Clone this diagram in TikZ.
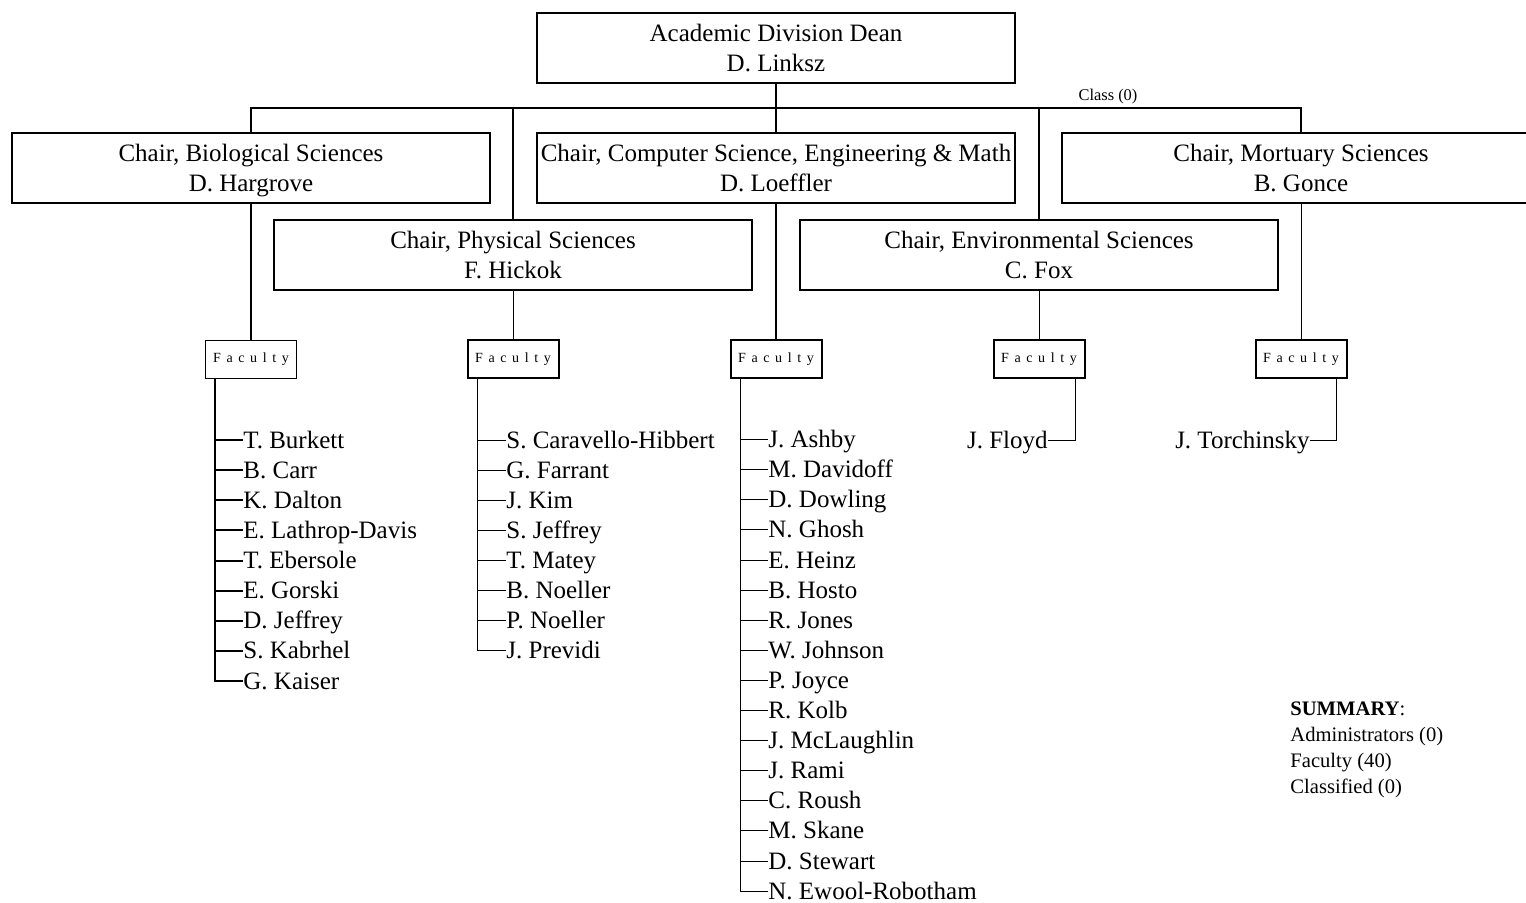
\documentclass[tikz,border=0pt]{standalone}
\usepackage{fontspec}
\setmainfont{Liberation Serif}
\usetikzlibrary{positioning,calc}

\newcommand{\chairstrut}{\rule[-3.5pt]{0pt}{15pt}}

\tikzset{
  chairbox/.style={draw, line width=1pt, minimum width=239pt, minimum height=35pt,
    align=center, inner sep=0pt, font=\fontsize{12.5}{15}\selectfont},
  facbox/.style={draw, line width=1pt, minimum width=45.5pt, minimum height=19pt,
    inner sep=0pt, font=\fontsize{7}{8}\selectfont\addfontfeature{LetterSpace=40}},
  member/.style={inner sep=0pt, text height=8pt, text depth=0pt,
    font=\fontsize{12.5}{15}\selectfont},
  heavy/.style={line width=1pt},
  light/.style={line width=0.5pt},
}

\begin{document}
\begin{tikzpicture}[x=0.5pt,y=-0.5pt]
\useasboundingbox (0,0) rectangle (1526,902);

% dean and chairs
\node[chairbox] (dean) at (776,48) {Academic Division Dean\chairstrut\\D. Linksz\chairstrut};
\node[chairbox] (bio) at (251,168) {Chair, Biological Sciences\chairstrut\\D. Hargrove\chairstrut};
\node[chairbox] (csem) at (776,168) {Chair, Computer Science, Engineering \& Math\chairstrut\\D. Loeffler\chairstrut};
\node[chairbox] (mort) at (1301,168) {Chair, Mortuary Sciences\chairstrut\\B. Gonce\chairstrut};
\node[chairbox] (phys) at (513,255) {Chair, Physical Sciences\chairstrut\\F. Hickok\chairstrut};
\node[chairbox] (env) at (1039,255) {Chair, Environmental Sciences\chairstrut\\C. Fox\chairstrut};
\coordinate (bus) at (776,108);
\node[font=\fontsize{8.2}{9}\selectfont, inner sep=0pt] (classlbl) at (1108,97) {Class (0)};

% bus lines
\draw[heavy] (dean) -- (csem);
\draw[heavy] (bio.north) |- (bus) -| (mort.north);
\draw[heavy] (phys.north) -- (phys.north |- bus);
\draw[heavy] (env.north) -- (env.north |- bus);

% faculty boxes
\node[facbox, light] (fbio) at (251,359) {Faculty};
\node[facbox] (fphys) at (513,359) {Faculty};
\node[facbox] (fcsem) at (776,359) {Faculty};
\node[facbox] (fenv) at (1039,359) {Faculty};
\node[facbox] (fmort) at (1301,359) {Faculty};
\draw[heavy] (bio) -- (fbio);
\draw[light] (phys) -- (fphys);
\draw[heavy] (csem) -- (fcsem);
\draw[light] (env) -- (fenv);
\draw[light] (mort) -- (fmort);

% biological sciences
\coordinate (biospine) at ([xshift=5pt]fbio.south west);
\foreach \who [count=\i] in {T. Burkett, B. Carr, K. Dalton, E. Lathrop-Davis,
    T. Ebersole, E. Gorski, D. Jeffrey, S. Kabrhel, G. Kaiser}{
  \node[member, anchor=west] (bio\i) at (243,{409.87+30.13*\i}) {\who};
  \draw[heavy] (bio\i.west) -- (bio\i.west -| biospine);
}
\draw[heavy] (biospine) |- (bio9.west);

% physical sciences
\coordinate (physspine) at ([xshift=5.5pt]fphys.south west);
\foreach \who [count=\i] in {S. Caravello-Hibbert, G. Farrant, J. Kim, S. Jeffrey,
    T. Matey, B. Noeller, P. Noeller, J. Previdi}{
  \node[member, anchor=west] (phys\i) at (506,{409.87+30.13*\i}) {\who};
  \draw[light] (phys\i.west) -- (phys\i.west -| physspine);
}
\draw[light] (physspine) |- (phys8.west);

% computer science, engineering & math
\coordinate (csemspine) at ([xshift=5.5pt]fcsem.south west);
\foreach \who [count=\i] in {J. Ashby, M. Davidoff, D. Dowling, N. Ghosh, E. Heinz,
    B. Hosto, R. Jones, W. Johnson, P. Joyce, R. Kolb, J. McLaughlin, J. Rami,
    C. Roush, M. Skane, D. Stewart, N. Ewool-Robotham}{
  \node[member, anchor=west] (csem\i) at (768,{409.5+30.1*\i}) {\who};
  \draw[light] (csem\i.west) -- (csem\i.west -| csemspine);
}
\draw[light] (csemspine) |- (csem16.west);

% environmental and mortuary sciences
\coordinate (envspine) at ([xshift=-5pt]fenv.south east);
\node[member, anchor=east] (floyd) at (1048,440) {J. Floyd};
\draw[light] (envspine) |- (floyd.east);
\coordinate (mortspine) at ([xshift=-5.5pt]fmort.south east);
\node[member, anchor=east] (torch) at (1310,440) {J. Torchinsky};
\draw[light] (mortspine) |- (torch.east);

% summary
\node[anchor=north west, align=left, inner sep=0pt, font=\fontsize{10.3}{13}\selectfont]
  (summary) at (1290,701) {\textbf{SUMMARY}:\\Administrators (0)\\Faculty (40)\\Classified (0)};
\end{tikzpicture}
\end{document}
